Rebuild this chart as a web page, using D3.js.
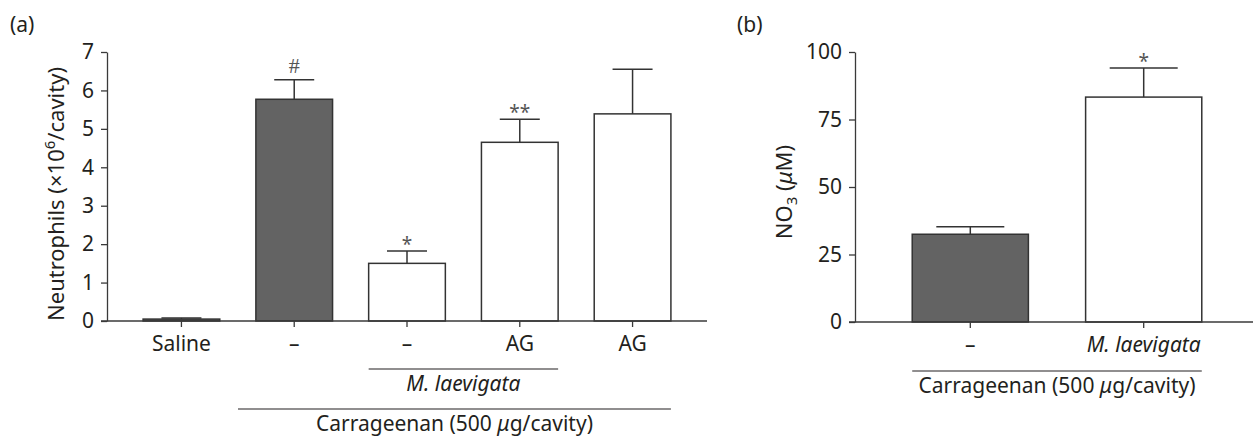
<!DOCTYPE html>
<html lang="en">
<head>
    <meta charset="UTF-8">
    <title>Neutrophils and NO3</title>
    <script src="https://d3js.org/d3.v7.min.js"></script>
    <style>
        body {
            margin: 0;
            background: #fff;
        }
        svg text {
            fill: #231f20;
            font-family: "Noto Sans", "Open Sans", sans-serif;
        }
        .axis path, .axis line {
            stroke: #3a3a3a;
            stroke-width: 1.3px;
        }
        .axis text {
            font-size: 21px;
        }
        .bar {
            stroke: #333;
            stroke-width: 1.5px;
        }
        .err {
            stroke: #333;
            stroke-width: 1.5px;
        }
        .grp-line {
            stroke: #231f20;
            stroke-width: 1.2px;
        }
    </style>
</head>
<body>
    <svg width="1253" height="438"></svg>

    <script>
        // panel (a): neutrophil counts
        const catsA = ["Saline", "carr", "ml", "mlAG", "AG"];
        const tickLabelsA = ["Saline", "\u2013", "\u2013", "AG", "AG"];
        const valuesA = [0.05, 5.77, 1.50, 4.65, 5.39];
        const errorsA = [0.03, 0.51, 0.32, 0.60, 1.16];
        const marksA = ["", "#", "*", "**", ""];
        const fillsA = ["#636363", "#636363", "#fff", "#fff", "#fff"];
        const ticksA = [0, 1, 2, 3, 4, 5, 6, 7];

        // panel (b): NO3
        const catsB = ["carr", "ml"];
        const tickLabelsB = ["\u2013", "M. laevigata"];
        const valuesB = [32.5, 83.3];
        const errorsB = [2.8, 10.8];
        const marksB = ["", "*"];
        const fillsB = ["#636363", "#fff"];
        const ticksB = [0, 25, 50, 75, 100];

        const svg = d3.select("svg");

        function drawPanel(opt) {
            const g = svg.append("g");
            const x = d3.scaleBand().domain(opt.cats).range(opt.xRange).padding(opt.pad);
            const y = d3.scaleLinear().domain(opt.yDomain).range(opt.yRange);
            const cx = i => x(opt.cats[i]) + x.bandwidth() / 2;

            // bars
            g.selectAll(".bar").data(opt.values).enter().append("rect")
                .attr("class", "bar")
                .attr("x", (d, i) => x(opt.cats[i]))
                .attr("width", x.bandwidth())
                .attr("y", d => y(d))
                .attr("height", d => y(0) - y(d))
                .attr("fill", (d, i) => opt.fills[i]);

            // error bars (upper only)
            const eb = g.selectAll(".eb").data(opt.values).enter().append("g");
            eb.append("line").attr("class", "err")
                .attr("x1", (d, i) => cx(i)).attr("x2", (d, i) => cx(i))
                .attr("y1", d => y(d))
                .attr("y2", (d, i) => y(d + opt.errors[i]));
            eb.append("line").attr("class", "err")
                .attr("x1", (d, i) => cx(i) - opt.cap)
                .attr("x2", (d, i) => cx(i) + opt.cap)
                .attr("y1", (d, i) => y(d + opt.errors[i]))
                .attr("y2", (d, i) => y(d + opt.errors[i]));
            eb.append("text")
                .attr("x", (d, i) => cx(i))
                .attr("y", (d, i) => y(d + opt.errors[i]) - (opt.marks[i] === "#" ? 7 : 0))
                .attr("text-anchor", "middle")
                .style("font-family", (d, i) => opt.marks[i] === "#" ? "'Liberation Serif', serif" : null)
                .style("font-size", (d, i) => opt.marks[i] === "#" ? "22px" : "19px")
                .style("fill", "#555")
                .text((d, i) => opt.marks[i]);

            // axes
            g.append("g").attr("class", "axis")
                .attr("transform", `translate(${opt.xRange[0]},0)`)
                .call(d3.axisLeft(y).tickValues(opt.ticks).tickSize(6).tickSizeOuter(0)
                    .tickPadding(7).tickFormat(d3.format("d")));
            const xAxis = g.append("g").attr("class", "axis")
                .attr("transform", `translate(0,${y(0)})`)
                .call(d3.axisBottom(x).tickSize(6).tickSizeOuter(0).tickPadding(7)
                    .tickFormat((d, i) => opt.tickLabels[i]));
            xAxis.select(".domain").attr("d", `M${opt.xRange[0] - 6},0H${opt.xRange[1]}`);
            xAxis.selectAll(".tick text").attr("dy", "0.8em")
                .style("font-style", d => d === "ml" && opt.cats.length === 2 ? "italic" : null);

            return { x, y, g };
        }

        // panel (a)
        const a = drawPanel({
            cats: catsA, tickLabels: tickLabelsA, values: valuesA, errors: errorsA,
            marks: marksA, fills: fillsA, ticks: ticksA,
            xRange: [107, 707], pad: 0.32, yDomain: [0, 7], yRange: [321, 52], cap: 20
        });

        // panel (b)
        const b = drawPanel({
            cats: catsB, tickLabels: tickLabelsB, values: valuesB, errors: errorsB,
            marks: marksB, fills: fillsB, ticks: ticksB,
            xRange: [855, 1259], pad: 0.33, yDomain: [0, 100], yRange: [322, 52], cap: 34
        });

        // group lines and labels
        function groupLabel(g, x1, x2, yLine, text, italic) {
            g.append("line").attr("class", "grp-line")
                .attr("x1", x1).attr("x2", x2).attr("y1", yLine).attr("y2", yLine);
            const t = g.append("text")
                .attr("x", (x1 + x2) / 2).attr("y", yLine + 22)
                .attr("text-anchor", "middle")
                .style("font-size", "21px");
            if (italic) {
                t.style("font-style", "italic").text(text);
            } else {
                t.append("tspan").text("Carrageenan (500 ");
                t.append("tspan").style("font-style", "italic").text("\u03bc");
                t.append("tspan").text("g/cavity)");
            }
        }
        groupLabel(a.g, a.x("ml"), a.x("mlAG") + a.x.bandwidth(), 369, "M. laevigata", true);
        groupLabel(a.g, 238, a.x("AG") + a.x.bandwidth(), 409, "carr", false);
        groupLabel(b.g, b.x("carr"), b.x("ml") + b.x.bandwidth(), 371, "carr", false);

        // y axis titles
        const tA = svg.append("text")
            .attr("transform", "translate(64,194) rotate(-90)")
            .attr("text-anchor", "middle")
            .style("font-size", "22px");
        tA.append("tspan").text("Neutrophils (\u00d710");
        tA.append("tspan").attr("dy", -9).style("font-size", "15px").text("6");
        tA.append("tspan").attr("dy", 9).text("/cavity)");

        const tB = svg.append("text")
            .attr("transform", "translate(792,192) rotate(-90)")
            .attr("text-anchor", "middle")
            .style("font-size", "22px");
        tB.append("tspan").text("NO");
        tB.append("tspan").attr("dy", 5).style("font-size", "15px").text("3");
        tB.append("tspan").attr("dy", -5).text(" (");
        tB.append("tspan").style("font-style", "italic").text("\u03bc");
        tB.append("tspan").text("M)");

        // panel letters
        svg.append("text").attr("x", 10).attr("y", 32).style("font-size", "21px").text("(a)");
        svg.append("text").attr("x", 737).attr("y", 32).style("font-size", "21px").text("(b)");
    </script>
</body>
</html>
